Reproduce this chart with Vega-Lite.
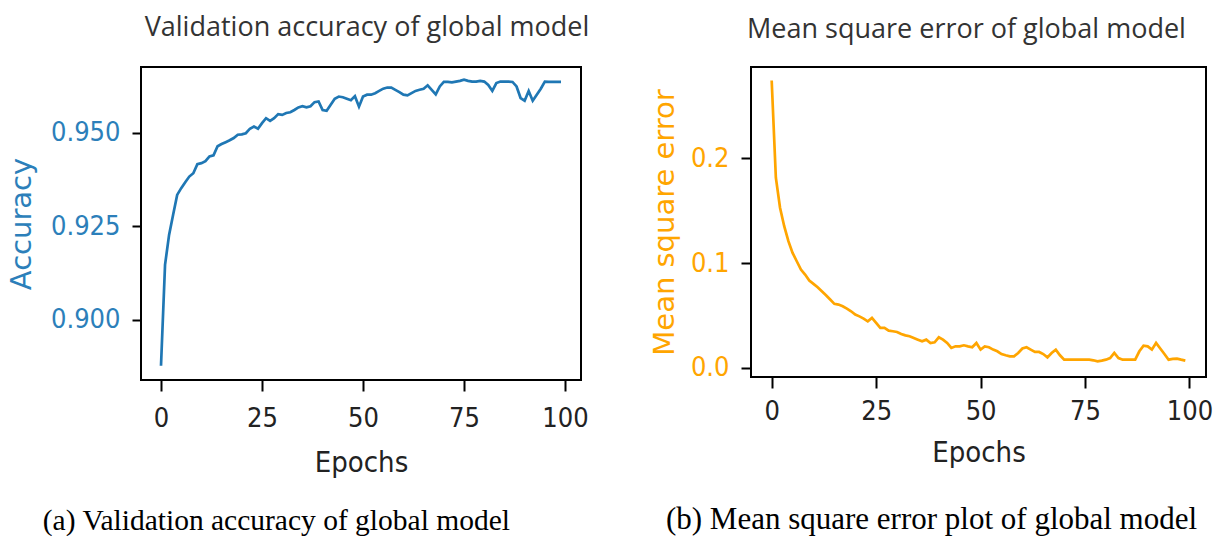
{
  "$schema": "https://vega.github.io/schema/vega-lite/v6.json",
  "background": "white",
  "padding": {"left": 6, "top": 13, "right": 0, "bottom": 0},
  "config": {
    "view": {"stroke": "black", "strokeWidth": 2},
    "axis": {
      "domain": false, "grid": false,
      "tickColor": "black", "tickWidth": 2,
      "labelFont": "'DejaVu Sans Condensed', 'DejaVu Sans'", "labelFontSize": 27, "labelColor": "#222",
      "titleFont": "'DejaVu Sans Condensed', 'DejaVu Sans'", "titleFontWeight": "normal", "titleColor": "#222"
    },
    "concat": {"spacing": 58}
  },
  "datasets": {
    "train": [
      {"epoch": 0, "accuracy": 0.8877, "mse": 0.274},
      {"epoch": 1, "accuracy": 0.9147, "mse": 0.1813},
      {"epoch": 2, "accuracy": 0.9227, "mse": 0.1527},
      {"epoch": 3, "accuracy": 0.9281, "mse": 0.1351},
      {"epoch": 4, "accuracy": 0.9334, "mse": 0.1208},
      {"epoch": 5, "accuracy": 0.9352, "mse": 0.1097},
      {"epoch": 6, "accuracy": 0.9368, "mse": 0.1017},
      {"epoch": 7, "accuracy": 0.9383, "mse": 0.0938},
      {"epoch": 8, "accuracy": 0.9392, "mse": 0.0890},
      {"epoch": 9, "accuracy": 0.9416, "mse": 0.0833},
      {"epoch": 10, "accuracy": 0.9419, "mse": 0.0801},
      {"epoch": 11, "accuracy": 0.9424, "mse": 0.0769},
      {"epoch": 12, "accuracy": 0.9437, "mse": 0.0731},
      {"epoch": 13, "accuracy": 0.9440, "mse": 0.0693},
      {"epoch": 14, "accuracy": 0.9464, "mse": 0.0652},
      {"epoch": 15, "accuracy": 0.9470, "mse": 0.0611},
      {"epoch": 16, "accuracy": 0.9475, "mse": 0.0604},
      {"epoch": 17, "accuracy": 0.9480, "mse": 0.0588},
      {"epoch": 18, "accuracy": 0.9486, "mse": 0.0566},
      {"epoch": 19, "accuracy": 0.9495, "mse": 0.0540},
      {"epoch": 20, "accuracy": 0.9496, "mse": 0.0509},
      {"epoch": 21, "accuracy": 0.9499, "mse": 0.0492},
      {"epoch": 22, "accuracy": 0.9511, "mse": 0.0470},
      {"epoch": 23, "accuracy": 0.9517, "mse": 0.0445},
      {"epoch": 24, "accuracy": 0.9511, "mse": 0.0477},
      {"epoch": 25, "accuracy": 0.9526, "mse": 0.0429},
      {"epoch": 26, "accuracy": 0.9539, "mse": 0.0382},
      {"epoch": 27, "accuracy": 0.9532, "mse": 0.0382},
      {"epoch": 28, "accuracy": 0.9539, "mse": 0.0356},
      {"epoch": 29, "accuracy": 0.9550, "mse": 0.0350},
      {"epoch": 30, "accuracy": 0.9548, "mse": 0.0343},
      {"epoch": 31, "accuracy": 0.9553, "mse": 0.0324},
      {"epoch": 32, "accuracy": 0.9555, "mse": 0.0311},
      {"epoch": 33, "accuracy": 0.9561, "mse": 0.0302},
      {"epoch": 34, "accuracy": 0.9568, "mse": 0.0286},
      {"epoch": 35, "accuracy": 0.9571, "mse": 0.0270},
      {"epoch": 36, "accuracy": 0.9568, "mse": 0.0254},
      {"epoch": 37, "accuracy": 0.9571, "mse": 0.0270},
      {"epoch": 38, "accuracy": 0.9582, "mse": 0.0238},
      {"epoch": 39, "accuracy": 0.9584, "mse": 0.0245},
      {"epoch": 40, "accuracy": 0.9561, "mse": 0.0292},
      {"epoch": 41, "accuracy": 0.9559, "mse": 0.0270},
      {"epoch": 42, "accuracy": 0.9575, "mse": 0.0238},
      {"epoch": 43, "accuracy": 0.9591, "mse": 0.0191},
      {"epoch": 44, "accuracy": 0.9597, "mse": 0.0206},
      {"epoch": 45, "accuracy": 0.9595, "mse": 0.0206},
      {"epoch": 46, "accuracy": 0.9591, "mse": 0.0216},
      {"epoch": 47, "accuracy": 0.9587, "mse": 0.0206},
      {"epoch": 48, "accuracy": 0.9598, "mse": 0.0197},
      {"epoch": 49, "accuracy": 0.9570, "mse": 0.0238},
      {"epoch": 50, "accuracy": 0.9597, "mse": 0.0175},
      {"epoch": 51, "accuracy": 0.9602, "mse": 0.0206},
      {"epoch": 52, "accuracy": 0.9602, "mse": 0.0197},
      {"epoch": 53, "accuracy": 0.9606, "mse": 0.0175},
      {"epoch": 54, "accuracy": 0.9612, "mse": 0.0159},
      {"epoch": 55, "accuracy": 0.9618, "mse": 0.0133},
      {"epoch": 56, "accuracy": 0.9621, "mse": 0.0121},
      {"epoch": 57, "accuracy": 0.9621, "mse": 0.0111},
      {"epoch": 58, "accuracy": 0.9615, "mse": 0.0111},
      {"epoch": 59, "accuracy": 0.9609, "mse": 0.0143},
      {"epoch": 60, "accuracy": 0.9602, "mse": 0.0185},
      {"epoch": 61, "accuracy": 0.9600, "mse": 0.0197},
      {"epoch": 62, "accuracy": 0.9606, "mse": 0.0175},
      {"epoch": 63, "accuracy": 0.9612, "mse": 0.0153},
      {"epoch": 64, "accuracy": 0.9615, "mse": 0.0153},
      {"epoch": 65, "accuracy": 0.9618, "mse": 0.0133},
      {"epoch": 66, "accuracy": 0.9627, "mse": 0.0101},
      {"epoch": 67, "accuracy": 0.9615, "mse": 0.0143},
      {"epoch": 68, "accuracy": 0.9603, "mse": 0.0175},
      {"epoch": 69, "accuracy": 0.9624, "mse": 0.0121},
      {"epoch": 70, "accuracy": 0.9636, "mse": 0.0079},
      {"epoch": 71, "accuracy": 0.9636, "mse": 0.0079},
      {"epoch": 72, "accuracy": 0.9635, "mse": 0.0079},
      {"epoch": 73, "accuracy": 0.9637, "mse": 0.0079},
      {"epoch": 74, "accuracy": 0.9639, "mse": 0.0079},
      {"epoch": 75, "accuracy": 0.9642, "mse": 0.0079},
      {"epoch": 76, "accuracy": 0.9639, "mse": 0.0079},
      {"epoch": 77, "accuracy": 0.9637, "mse": 0.0073},
      {"epoch": 78, "accuracy": 0.9637, "mse": 0.0063},
      {"epoch": 79, "accuracy": 0.9639, "mse": 0.0070},
      {"epoch": 80, "accuracy": 0.9637, "mse": 0.0079},
      {"epoch": 81, "accuracy": 0.9628, "mse": 0.0095},
      {"epoch": 82, "accuracy": 0.9612, "mse": 0.0143},
      {"epoch": 83, "accuracy": 0.9633, "mse": 0.0095},
      {"epoch": 84, "accuracy": 0.9637, "mse": 0.0079},
      {"epoch": 85, "accuracy": 0.9637, "mse": 0.0079},
      {"epoch": 86, "accuracy": 0.9637, "mse": 0.0079},
      {"epoch": 87, "accuracy": 0.9636, "mse": 0.0079},
      {"epoch": 88, "accuracy": 0.9624, "mse": 0.0159},
      {"epoch": 89, "accuracy": 0.9593, "mse": 0.0213},
      {"epoch": 90, "accuracy": 0.9586, "mse": 0.0206},
      {"epoch": 91, "accuracy": 0.9612, "mse": 0.0175},
      {"epoch": 92, "accuracy": 0.9586, "mse": 0.0238},
      {"epoch": 93, "accuracy": 0.9602, "mse": 0.0185},
      {"epoch": 94, "accuracy": 0.9618, "mse": 0.0133},
      {"epoch": 95, "accuracy": 0.9637, "mse": 0.0079},
      {"epoch": 96, "accuracy": 0.9636, "mse": 0.0086},
      {"epoch": 97, "accuracy": 0.9636, "mse": 0.0089},
      {"epoch": 98, "accuracy": 0.9636, "mse": 0.0079},
      {"epoch": 99, "accuracy": 0.9636, "mse": 0.0070}
    ]
  },
  "hconcat": [
    {
      "title": {"text": "(a) Validation accuracy of global model", "orient": "bottom", "anchor": "middle", "frame": "bounds", "font": "'Liberation Serif'", "fontSize": 29.5, "fontWeight": "normal", "color": "black", "offset": 29, "dx": -22},
      "vconcat": [
        {
          "width": 440, "height": 313,
          "title": {"text": "Validation accuracy of global model", "font": "'Open Sans'", "fontSize": 27, "fontWeight": "normal", "color": "#333", "offset": 25, "anchor": "middle", "dx": 6},
          "data": {"name": "train"},
          "mark": {"type": "line", "color": "#1f77b4", "strokeWidth": 2.7},
          "encoding": {
            "x": {"field": "epoch", "type": "quantitative", "scale": {"domain": [-4.95, 103.95], "nice": false, "zero": false},
                  "axis": {"values": [0, 25, 50, 75, 100], "format": "d", "title": "Epochs", "titleFontSize": 29, "tickSize": 11, "labelPadding": 14, "titlePadding": 17}},
            "y": {"field": "accuracy", "type": "quantitative", "scale": {"domain": [0.8839, 0.9676], "nice": false, "zero": false},
                  "axis": {"values": [0.9, 0.925, 0.95], "format": ".3f", "title": "Accuracy", "titleFontSize": 29, "titleFont": "'DejaVu Sans'", "labelColor": "#2c7fba", "titleColor": "#2c7fba", "tickSize": 9, "labelPadding": 12, "titlePadding": 14}}
          }
        }
      ]
    },
    {
      "title": {"text": "(b) Mean square error plot of global model", "orient": "bottom", "anchor": "middle", "frame": "bounds", "font": "'Liberation Serif'", "fontSize": 31, "fontWeight": "normal", "color": "black", "offset": 37, "dx": 0},
      "vconcat": [
        {
          "width": 455, "height": 310,
          "title": {"text": "Mean square error of global model", "font": "'Open Sans'", "fontSize": 27, "fontWeight": "normal", "color": "#333", "offset": 23, "anchor": "middle", "dx": -12},
          "data": {"name": "train"},
          "mark": {"type": "line", "color": "orange", "strokeWidth": 2.7},
          "encoding": {
            "x": {"field": "epoch", "type": "quantitative", "scale": {"domain": [-4.95, 103.95], "nice": false, "zero": false},
                  "axis": {"values": [0, 25, 50, 75, 100], "format": "d", "title": "Epochs", "titleFontSize": 29, "tickSize": 11, "labelPadding": 10, "titlePadding": 14}},
            "y": {"field": "mse", "type": "quantitative", "scale": {"domain": [-0.0086, 0.2868], "nice": false, "zero": false},
                  "axis": {"values": [0, 0.1, 0.2], "format": ".1f", "title": "Mean square error", "titleFontSize": 29, "titleFont": "'DejaVu Sans'", "labelColor": "orange", "titleColor": "orange", "tickSize": 10, "labelPadding": 12, "titlePadding": 11}}
          }
        }
      ]
    }
  ]
}
